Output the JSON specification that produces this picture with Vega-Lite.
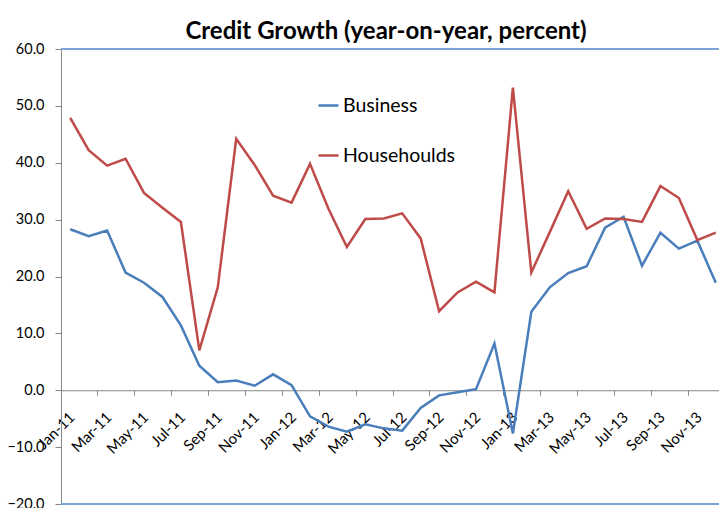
{
  "$schema": "https://vega.github.io/schema/vega-lite/v6.json",
  "autosize": {"type": "none"},
  "width": 658,
  "height": 455,
  "padding": {"left": 61, "top": 49, "right": 0, "bottom": 4},
  "background": "white",
  "config": {"view": {"stroke": null}, "font": "Lato"},
  "title": {"text": "Credit Growth (year-on-year, percent)", "font": "Lato", "fontSize": 24, "fontWeight": "bold", "color": "#000000", "anchor": "middle", "offset": 10, "dx": -4, "dy": 13},
  "data": {"values": [
    {"month": "Jan-11", "series": "Business", "value": 28.3},
    {"month": "Feb-11", "series": "Business", "value": 27.1},
    {"month": "Mar-11", "series": "Business", "value": 28.1},
    {"month": "Apr-11", "series": "Business", "value": 20.7},
    {"month": "May-11", "series": "Business", "value": 18.9},
    {"month": "Jun-11", "series": "Business", "value": 16.4},
    {"month": "Jul-11", "series": "Business", "value": 11.4},
    {"month": "Aug-11", "series": "Business", "value": 4.3},
    {"month": "Sep-11", "series": "Business", "value": 1.4},
    {"month": "Oct-11", "series": "Business", "value": 1.7},
    {"month": "Nov-11", "series": "Business", "value": 0.8},
    {"month": "Dec-11", "series": "Business", "value": 2.8},
    {"month": "Jan-12", "series": "Business", "value": 0.9},
    {"month": "Feb-12", "series": "Business", "value": -4.6},
    {"month": "Mar-12", "series": "Business", "value": -6.4},
    {"month": "Apr-12", "series": "Business", "value": -7.3},
    {"month": "May-12", "series": "Business", "value": -6.0},
    {"month": "Jun-12", "series": "Business", "value": -6.7},
    {"month": "Jul-12", "series": "Business", "value": -7.1},
    {"month": "Aug-12", "series": "Business", "value": -3.1},
    {"month": "Sep-12", "series": "Business", "value": -0.9},
    {"month": "Oct-12", "series": "Business", "value": -0.35},
    {"month": "Nov-12", "series": "Business", "value": 0.2},
    {"month": "Dec-12", "series": "Business", "value": 8.2},
    {"month": "Jan-13", "series": "Business", "value": -7.6},
    {"month": "Feb-13", "series": "Business", "value": 13.8},
    {"month": "Mar-13", "series": "Business", "value": 18.1},
    {"month": "Apr-13", "series": "Business", "value": 20.6},
    {"month": "May-13", "series": "Business", "value": 21.8},
    {"month": "Jun-13", "series": "Business", "value": 28.6},
    {"month": "Jul-13", "series": "Business", "value": 30.5},
    {"month": "Aug-13", "series": "Business", "value": 21.9},
    {"month": "Sep-13", "series": "Business", "value": 27.7},
    {"month": "Oct-13", "series": "Business", "value": 24.9},
    {"month": "Nov-13", "series": "Business", "value": 26.3},
    {"month": "Dec-13", "series": "Business", "value": 18.9},
    {"month": "Jan-11", "series": "Househoulds", "value": 47.9},
    {"month": "Feb-11", "series": "Househoulds", "value": 42.2},
    {"month": "Mar-11", "series": "Househoulds", "value": 39.5},
    {"month": "Apr-11", "series": "Househoulds", "value": 40.7},
    {"month": "May-11", "series": "Househoulds", "value": 34.7},
    {"month": "Jun-11", "series": "Househoulds", "value": 32.1},
    {"month": "Jul-11", "series": "Househoulds", "value": 29.6},
    {"month": "Aug-11", "series": "Househoulds", "value": 7.0},
    {"month": "Sep-11", "series": "Househoulds", "value": 18.1},
    {"month": "Oct-11", "series": "Househoulds", "value": 44.2},
    {"month": "Nov-11", "series": "Househoulds", "value": 39.6},
    {"month": "Dec-11", "series": "Househoulds", "value": 34.2},
    {"month": "Jan-12", "series": "Househoulds", "value": 33.0},
    {"month": "Feb-12", "series": "Househoulds", "value": 39.8},
    {"month": "Mar-12", "series": "Househoulds", "value": 31.9},
    {"month": "Apr-12", "series": "Househoulds", "value": 25.2},
    {"month": "May-12", "series": "Househoulds", "value": 30.1},
    {"month": "Jun-12", "series": "Househoulds", "value": 30.2},
    {"month": "Jul-12", "series": "Househoulds", "value": 31.1},
    {"month": "Aug-12", "series": "Househoulds", "value": 26.7},
    {"month": "Sep-12", "series": "Househoulds", "value": 13.9},
    {"month": "Oct-12", "series": "Househoulds", "value": 17.2},
    {"month": "Nov-12", "series": "Househoulds", "value": 19.1},
    {"month": "Dec-12", "series": "Househoulds", "value": 17.2},
    {"month": "Jan-13", "series": "Househoulds", "value": 53.2},
    {"month": "Feb-13", "series": "Househoulds", "value": 20.7},
    {"month": "Mar-13", "series": "Househoulds", "value": 27.8},
    {"month": "Apr-13", "series": "Househoulds", "value": 35.0},
    {"month": "May-13", "series": "Househoulds", "value": 28.4},
    {"month": "Jun-13", "series": "Househoulds", "value": 30.2},
    {"month": "Jul-13", "series": "Househoulds", "value": 30.1},
    {"month": "Aug-13", "series": "Househoulds", "value": 29.6},
    {"month": "Sep-13", "series": "Househoulds", "value": 35.9},
    {"month": "Oct-13", "series": "Househoulds", "value": 33.8},
    {"month": "Nov-13", "series": "Househoulds", "value": 26.4},
    {"month": "Dec-13", "series": "Househoulds", "value": 27.7}
  ]},
  "layer": [
    {
      "mark": {"type": "rule", "color": "#7BA3D6", "strokeWidth": 1.5},
      "encoding": {"y": {"datum": 60, "type": "quantitative"}}
    },
    {
      "mark": {"type": "rule", "color": "#7BA3D6", "strokeWidth": 1.5},
      "encoding": {"y": {"datum": -20, "type": "quantitative"}}
    },
    {
      "mark": {"type": "line", "strokeWidth": 2.5},
      "encoding": {
        "x": {
          "field": "month", "type": "ordinal", "sort": null,
          "scale": {"type": "band", "paddingInner": 0, "paddingOuter": 0, "range": [0, 664]},
          "axis": {
            "title": null,
            "offset": -113.75,
            "values": ["Jan-11","Mar-11","May-11","Jul-11","Sep-11","Nov-11","Jan-12","Mar-12","May-12","Jul-12","Sep-12","Nov-12","Jan-13","Mar-13","May-13","Jul-13","Sep-13","Nov-13"],
            "bandPosition": 0,
            "labelAngle": -45,
            "labelFont": "Lato",
            "labelFontSize": 15,
            "labelColor": "#000000",
            "labelPadding": 14,
            "labelOffset": -3,
            "labelOverlap": false,
            "labelFlush": false,
            "domainColor": "#868686",
            "domainWidth": 1,
            "tickColor": "#868686",
            "tickSize": 5,
            "grid": false
          }
        },
        "y": {
          "field": "value", "type": "quantitative",
          "scale": {"domain": [-20, 60], "nice": false, "zero": false},
          "axis": {
            "title": null,
            "values": [-20, -10, 0, 10, 20, 30, 40, 50, 60],
            "format": ".1f",
            "labelFont": "Lato",
            "labelFontSize": 14.5,
            "labelColor": "#000000",
            "labelPadding": 11,
            "labelFlush": false,
            "labelOverlap": false,
            "domainColor": "#868686",
            "tickColor": "#868686",
            "tickSize": 6,
            "grid": false
          }
        },
        "color": {
          "field": "series", "type": "nominal",
          "scale": {"domain": ["Business", "Househoulds"], "range": ["#4A7EBB", "#BE4B48"]},
          "legend": {
            "title": null,
            "orient": "none",
            "legendX": 256,
            "legendY": 45,
            "symbolType": "stroke",
            "symbolSize": 400,
            "symbolStrokeWidth": 2.5,
            "labelFont": "Lato",
            "labelFontSize": 19.5,
            "labelColor": "#000000",
            "labelOffset": 3,
            "rowPadding": 29
          }
        }
      }
    }
  ]
}
